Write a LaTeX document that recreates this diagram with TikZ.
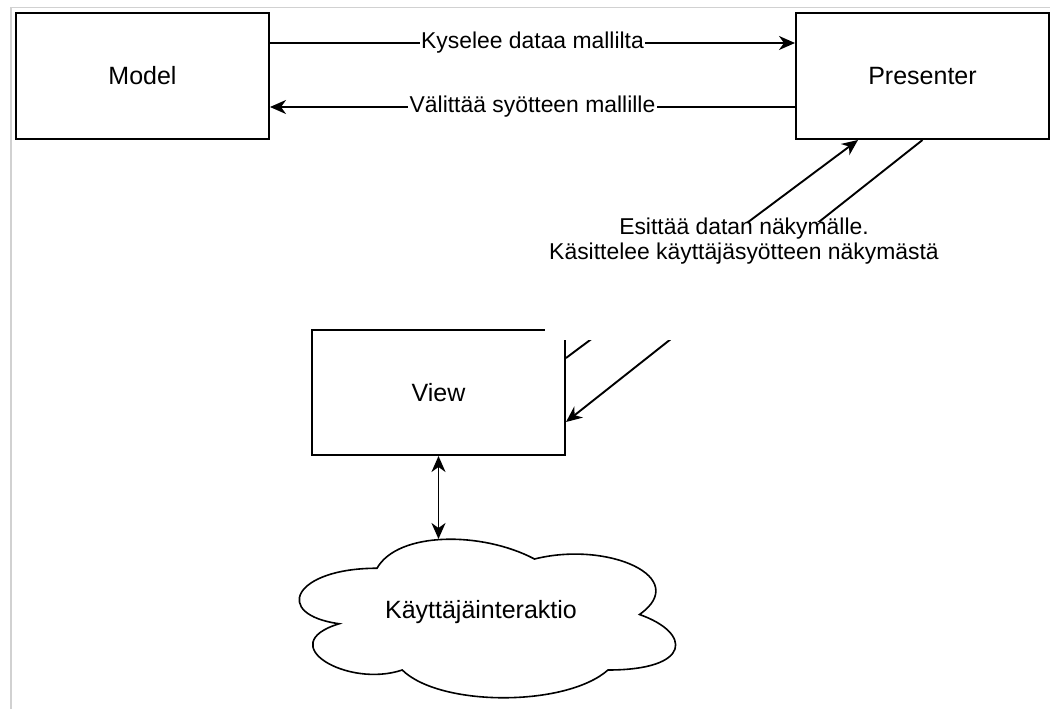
\documentclass[tikz,border=0pt]{standalone}
\usepackage{fontspec}
\setmainfont{Liberation Sans}
\usetikzlibrary{arrows.meta,calc}
\begin{document}
\begin{tikzpicture}[x=1pt,y=-1pt,
  box/.style={draw=black, line width=2pt, fill=white, minimum width=253pt,
    minimum height=126pt, inner sep=0pt, font=\fontsize{25}{30}\selectfont},
  tip/.tip={Stealth[length=16pt,width=14pt,inset=5pt]},
  link/.style={line width=1.9pt, -tip},
  twoway/.style={line width=1.9pt, tip-tip},
  lbl/.style={fill=white, inner sep=1.5pt, font=\fontsize{22.9}{24.5}\selectfont},
  frame/.style={draw=black!18, line width=1.5pt},
  cloudline/.style={draw=black, line width=1.6pt, fill=white}
]
\useasboundingbox (0,0) rectangle (1050,709);

% thin page frame
\draw[frame] (1050,7.3) -- (11,7.3) -- (11,709);

% main boxes
\node[box] (model) at (142.5,76) {Model};
\node[box] (presenter) at (922.5,76) {Presenter};
\node[box, minimum height=125pt] (view) at (438.5,392.5) {View};

% model <-> presenter
\draw[link] ([yshift=33pt]model.east) -- node[lbl] {Kyselee dataa mallilta}
  ([yshift=33pt]presenter.west);
\draw[link] ([yshift=-31pt]presenter.west) -- node[lbl] {Välittää syötteen mallille}
  ([yshift=-31pt]model.east);

% presenter <-> view
\draw[link] ([yshift=34.5pt]view.east) -- ([xshift=-64.5pt]presenter.south);
\draw[link] (presenter.south) -- ([yshift=-29.5pt]view.east);

% white label background covering the middle of both links
\node[fill=white, inner sep=0pt, minimum width=405pt, minimum height=118pt,
  anchor=north west] (mask) at (545,222) {};
\node[lbl, fill=none, align=center] (plabel) at (744,241)
  {Esittää datan näkymälle.\\Käsittelee käyttäjäsyötteen näkymästä};

% user interaction cloud
\draw[cloudline] (377,568.25)
  .. controls (293,568.25) and (272,614.5) .. (339.2,623.75)
  .. controls (272,644.1) and (347.6,688.5) .. (402.2,670)
  .. controls (440,707) and (566,707) .. (608,670)
  .. controls (692,670) and (692,633) .. (639.5,614.5)
  .. controls (692,577.5) and (608,540.5) .. (534.5,559)
  .. controls (482,531.25) and (398,531.25) .. (377,568.25) -- cycle;
\node[font=\fontsize{25}{30}\selectfont] (cloud) at (481,612) {Käyttäjäinteraktio};
\coordinate (cloudtop) at (438.5,539);

\draw[twoway] (view.south) -- (cloudtop);
\end{tikzpicture}
\end{document}
